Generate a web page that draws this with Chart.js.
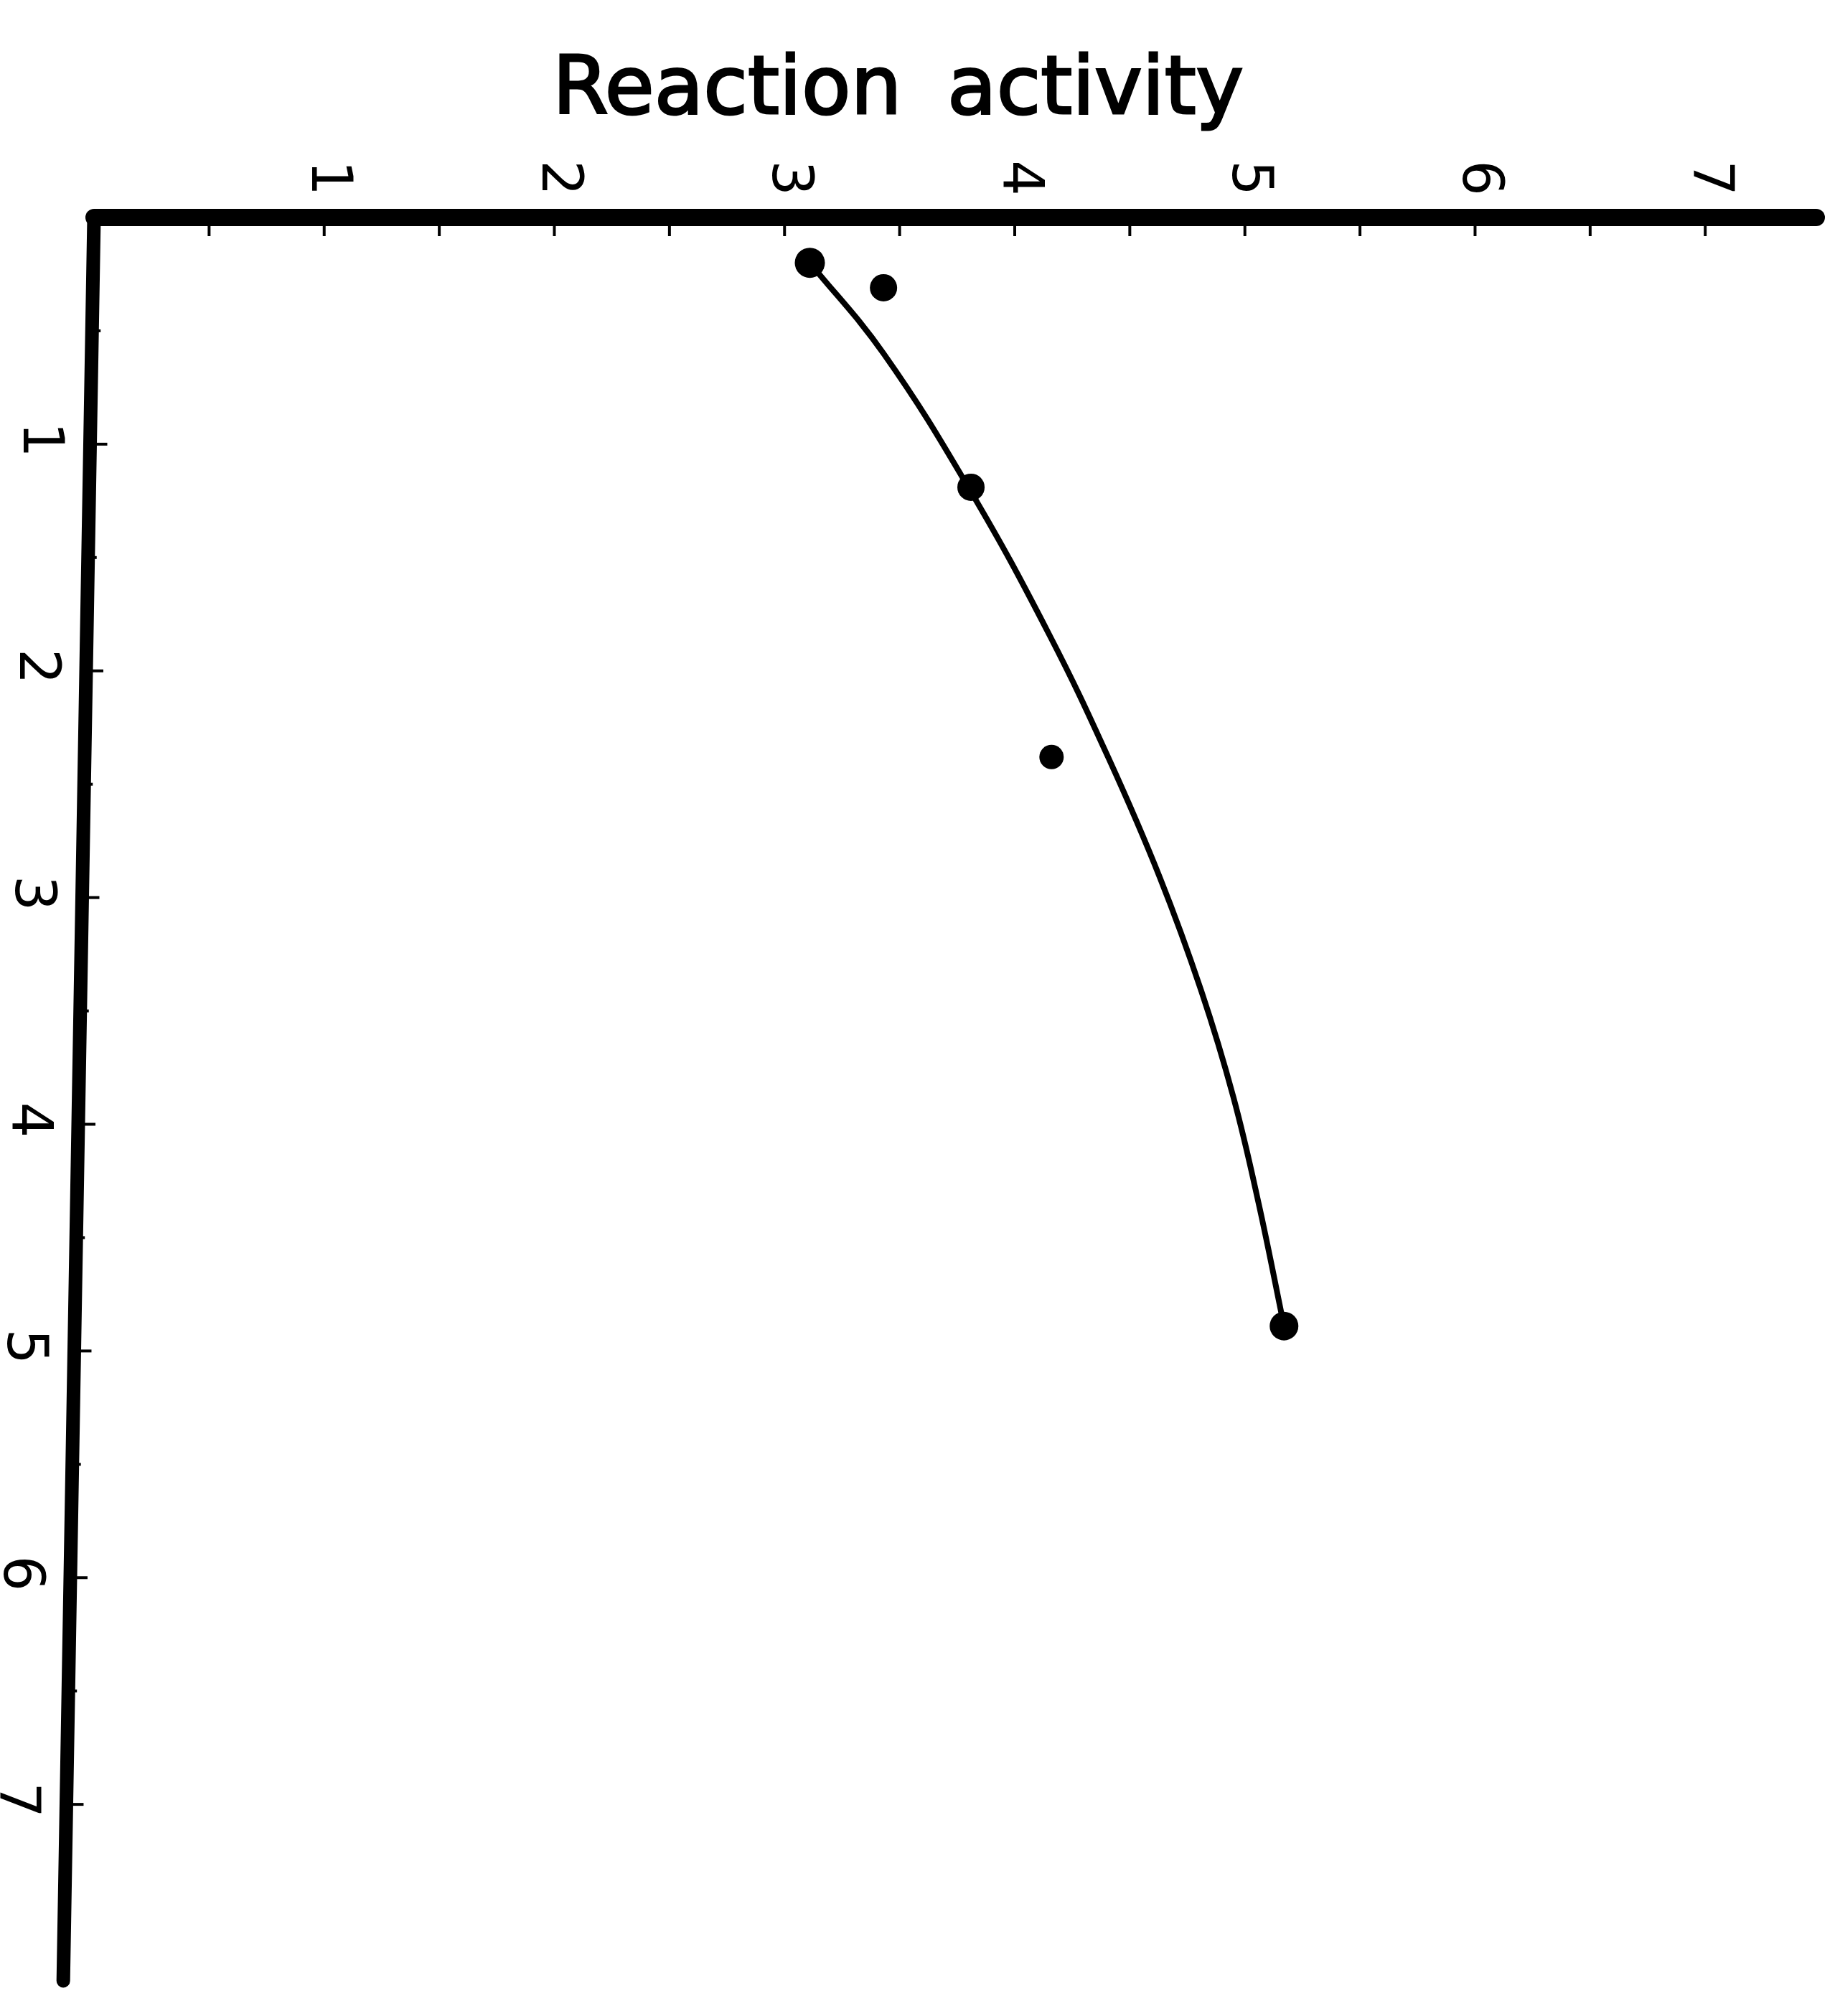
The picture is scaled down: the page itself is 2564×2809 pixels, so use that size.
<!DOCTYPE html>
<html>
<head>
<meta charset="utf-8">
<title>Reaction activity</title>
<script src="https://cdn.jsdelivr.net/npm/chart.js@4/dist/chart.umd.min.js"></script>
<style>
  html, body { margin: 0; padding: 0; background: #fff; }
  canvas { display: block; }
</style>
</head>
<body>
<canvas id="graphique" width="2564" height="2809"></canvas>
<script>
// Donnees
const pointsX = [3.11, 3.43, 3.81, 4.16, 5.17];
const pointsY = [0.20, 0.31, 1.19, 2.38, 4.89];

// Courbe tracee a la main sur la figure
const courbeX = [3.11, 3.43, 3.81, 4.15, 4.41, 4.63, 4.81, 4.95, 5.06, 5.17];
const courbeY = [0.20, 0.60, 1.21, 1.84, 2.39, 2.91, 3.41, 3.88, 4.35, 4.89];

const ticksHaut = ['1', '2', '3', '4', '5', '6', '7'];
const ticksGauche = ['1', '2', '3', '4', '5', '6', '7'];
const titre = 'Reaction activity';

// Axes, graduations et titre dessines a partir des echelles de Chart.js
const axesPlugin = {
    id: 'axesFigure',
    afterDatasetsDraw(chart) {
        const ctx = chart.ctx;
        const zone = chart.chartArea;
        const sx = chart.scales.x;
        const sy = chart.scales.y;
        const pente = 43 / (zone.bottom - zone.top); // l'axe vertical penche un peu
        const axeGaucheX = py => zone.left - pente * (py - zone.top);

        ctx.save();
        ctx.strokeStyle = '#000';
        ctx.fillStyle = '#000';
        ctx.lineCap = 'round';

        // axe du haut
        ctx.lineWidth = 24;
        ctx.beginPath();
        ctx.moveTo(zone.left, zone.top);
        ctx.lineTo(zone.right - 12, zone.top);
        ctx.stroke();

        // axe de gauche
        ctx.lineWidth = 19;
        ctx.beginPath();
        ctx.moveTo(zone.left, zone.top);
        ctx.lineTo(axeGaucheX(zone.bottom - 10), zone.bottom - 10);
        ctx.stroke();

        ctx.lineCap = 'butt';
        ctx.lineWidth = 4;

        // graduations du haut (tous les 0.5)
        for (let v = 0.5; v <= 7.01; v += 0.5) {
            const px = sx.getPixelForValue(v);
            ctx.beginPath();
            ctx.moveTo(px, zone.top);
            ctx.lineTo(px, zone.top + 26);
            ctx.stroke();
        }

        // graduations de gauche
        for (let v = 0.5; v <= 7.01; v += 0.5) {
            const py = sy.getPixelForValue(v);
            const ax = axeGaucheX(py);
            const long = Number.isInteger(v) ? 24 : 12;
            ctx.beginPath();
            ctx.moveTo(ax, py);
            ctx.lineTo(ax + long, py);
            ctx.stroke();
        }

        // etiquettes tournees de 90 degres
        ctx.font = '78px "DejaVu Sans"';
        ctx.textAlign = 'center';
        ctx.textBaseline = 'middle';
        ticksHaut.forEach((lab, i) => {
            const px = sx.getPixelForValue(i + 1);
            ctx.save();
            ctx.translate(px + 4, zone.top - 55);
            ctx.rotate(Math.PI / 2);
            ctx.fillText(lab, 0, 0);
            ctx.restore();
        });
        ticksGauche.forEach((lab, i) => {
            const py = sy.getPixelForValue(i + 1);
            ctx.save();
            ctx.translate(axeGaucheX(py) - 72, py - 6);
            ctx.rotate(Math.PI / 2);
            ctx.fillText(lab, 0, 0);
            ctx.restore();
        });

        // titre
        ctx.font = '112px "DejaVu Sans"';
        ctx.textAlign = 'left';
        ctx.textBaseline = 'alphabetic';
        if ('wordSpacing' in ctx) ctx.wordSpacing = '28px';
        ctx.lineWidth = 3;
        ctx.fillText(titre, 770, 158);
        ctx.strokeText(titre, 770, 158);
        ctx.restore();
    }
};

const ctx = document.getElementById('graphique').getContext('2d');
const graphique = new Chart(ctx, {
    type: 'scatter',
    data: {
        datasets: [
            {
                label: 'Courbe',
                data: courbeX.map((x, i) => ({ x: x, y: courbeY[i] })),
                showLine: true,
                borderColor: '#000',
                borderWidth: 8,
                pointRadius: 0,
                tension: 0.4,
                fill: false
            },
            {
                label: 'Mesures',
                data: pointsX.map((x, i) => ({ x: x, y: pointsY[i] })),
                showLine: false,
                backgroundColor: '#000',
                borderColor: '#000',
                borderWidth: 0,
                pointRadius: [21, 19, 19, 17, 20]
            }
        ]
    },
    options: {
        responsive: false,
        animation: false,
        devicePixelRatio: 1,
        layout: { padding: { left: 131, top: 303, right: 11, bottom: 39 } },
        plugins: {
            legend: { display: false },
            tooltip: { enabled: false },
            title: { display: false }
        },
        scales: {
            x: { type: 'linear', position: 'top', min: 0, max: 7.52, display: false },
            y: { type: 'linear', min: 0, max: 7.81, reverse: true, display: false }
        }
    },
    plugins: [axesPlugin]
});
</script>
</body>
</html>
